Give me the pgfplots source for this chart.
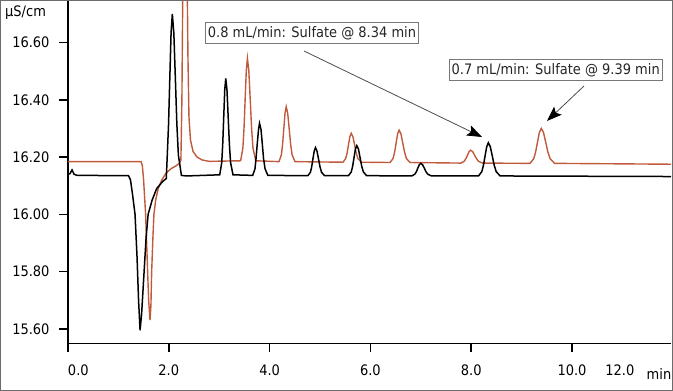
\documentclass[border=0pt]{standalone}
\usepackage{fontspec}
\setmainfont{DejaVu Sans}[FakeStretch=0.9]
\usepackage{pgfplots}
\pgfplotsset{compat=1.18}
\usetikzlibrary{arrows.meta}
\definecolor{rust}{RGB}{192,90,60}
\definecolor{boxgray}{RGB}{120,120,120}
\newcommand{\lbl}{\fontsize{14.5}{17}\selectfont}
\begin{document}
\begin{tikzpicture}
\useasboundingbox (-68bp,-47.5bp) rectangle (605bp,343.5bp);
\begin{axis}[
  at={(0,0)}, anchor=south west,
  scale only axis, width=603bp, height=343.5bp,
  xmin=0, xmax=11.964, ymin=15.5486, ymax=16.7488,
  axis lines=left, axis line style={-, line width=1.6bp},
  tick align=outside, major tick length=9bp,
  tick style={line width=1.6bp, black},
  xtick={0,2,4,6,8,10},
  xticklabels={\makebox[0pt][l]{0.0},2.0,4.0,6.0,8.0,10.0},
  extra x ticks={10.95}, extra x tick labels={12.0},
  extra x tick style={tick style={draw=none}},
  xticklabel style={yshift=-9bp},
  ytick={15.6,15.8,16.0,16.2,16.4,16.6},
  yticklabel style={xshift=-6bp, /pgf/number format/fixed, /pgf/number format/fixed zerofill, /pgf/number format/precision=2, /pgf/number format/assume math mode=true},
  ticklabel style={font=\lbl},
  clip=true,
]
% 0.7 mL/min (orange)
\addplot[rust, line width=1.4bp] coordinates {
(0,16.184)(1.45,16.184)(1.475,16.17)(1.50,16.12)(1.52,16.06)(1.54,16.00)(1.56,15.90)(1.58,15.80)(1.60,15.70)(1.627,15.63)(1.645,15.68)(1.66,15.80)(1.685,15.92)(1.705,16.00)(1.74,16.05)(1.79,16.09)(1.86,16.12)(1.95,16.145)(2.05,16.16)(2.15,16.17)(2.22,16.18)
(2.24,16.19)(2.26,16.40)(2.28,16.85)(2.30,17.2)(2.32,17.3)(2.34,17.2)(2.36,16.90)(2.38,16.55)(2.40,16.34)(2.43,16.26)(2.48,16.22)(2.56,16.20)(2.66,16.19)(2.8,16.185)
(3.425,16.187)(3.47,16.232)(3.4925,16.301)(3.515,16.403)(3.5375,16.502)(3.56,16.545)(3.5875,16.502)(3.615,16.403)(3.6425,16.301)(3.67,16.232)(3.725,16.187)
(4.186,16.184)(4.234,16.208)(4.258,16.245)(4.282,16.300)(4.306,16.353)(4.33,16.376)(4.359,16.353)(4.388,16.300)(4.417,16.245)(4.446,16.208)(4.504,16.184)
(5.455,16.182)(5.51,16.195)(5.5375,16.214)(5.565,16.243)(5.5925,16.271)(5.62,16.283)(5.653,16.271)(5.686,16.243)(5.719,16.214)(5.752,16.195)(5.818,16.182)
(6.39,16.181)(6.45,16.195)(6.48,16.217)(6.51,16.249)(6.54,16.281)(6.57,16.294)(6.606,16.281)(6.642,16.249)(6.678,16.217)(6.714,16.195)(6.786,16.181)
(7.795,16.179)(7.86,16.185)(7.8925,16.194)(7.925,16.206)(7.9575,16.219)(7.99,16.224)(8.029,16.219)(8.068,16.206)(8.107,16.194)(8.146,16.185)(8.224,16.179)
(9.165,16.178)(9.24,16.194)(9.2775,16.217)(9.315,16.252)(9.3525,16.286)(9.39,16.300)(9.434,16.286)(9.478,16.252)(9.522,16.217)(9.566,16.194)(9.654,16.178)
(11.964,16.175)
};
% 0.8 mL/min (black)
\addplot[black, line width=1.5bp] coordinates {
(0,16.14)(0.04,16.142)(0.08,16.155)(0.12,16.14)(0.18,16.136)(1.20,16.135)
(1.24,16.12)(1.28,16.07)(1.33,16.00)(1.37,15.85)(1.40,15.70)(1.43,15.595)(1.46,15.65)(1.51,15.80)(1.55,15.92)(1.59,16.00)(1.67,16.05)(1.76,16.09)(1.88,16.115)(1.95,16.125)
(1.97,16.207)(1.995,16.315)(2.02,16.476)(2.045,16.633)(2.07,16.70)(2.10,16.633)(2.13,16.476)(2.16,16.315)(2.19,16.207)(2.25,16.136)(2.35,16.134)
(3.01,16.138)(3.05,16.180)(3.07,16.245)(3.09,16.341)(3.11,16.435)(3.13,16.475)(3.154,16.435)(3.178,16.341)(3.202,16.245)(3.226,16.180)(3.274,16.138)
(3.665,16.136)(3.71,16.159)(3.73,16.194)(3.755,16.246)(3.78,16.296)(3.80,16.318)(3.83,16.296)(3.855,16.246)(3.88,16.194)(3.91,16.159)(3.965,16.136)
(4.76,16.135)(4.81,16.147)(4.835,16.166)(4.86,16.194)(4.885,16.221)(4.91,16.233)(4.94,16.221)(4.97,16.194)(5.00,16.166)(5.03,16.147)(5.09,16.135)
(5.565,16.135)(5.62,16.148)(5.6475,16.168)(5.675,16.198)(5.7025,16.228)(5.73,16.240)(5.7625,16.228)(5.795,16.198)(5.8275,16.168)(5.86,16.148)(5.925,16.135)
(6.82,16.134)(6.88,16.140)(6.91,16.148)(6.94,16.161)(6.97,16.173)(7.00,16.178)(7.035,16.173)(7.07,16.161)(7.105,16.148)(7.14,16.140)(7.21,16.134)
(8.145,16.134)(8.21,16.149)(8.2425,16.171)(8.275,16.204)(8.3075,16.236)(8.34,16.250)(8.379,16.236)(8.418,16.204)(8.457,16.171)(8.496,16.149)(8.574,16.134)
(11.964,16.132)
};
\end{axis}
\draw[gray!85!black, line width=1.5bp] (-67.25bp,-46.75bp) rectangle (604.25bp,342.75bp);
\node[anchor=west, font=\lbl, inner sep=0pt] at (-63bp,331bp) {µS/cm};
\node[font=\lbl, inner sep=0pt] at (591bp,-30.5bp) {min};
\draw[black!70, line width=0.8bp, -{Stealth[length=15bp,width=11bp,inset=3bp,color=black]}] (236bp,292.5bp) -- (414bp,206.5bp);
\draw[black!70, line width=0.8bp, -{Stealth[length=15bp,width=11bp,inset=3bp,color=black]}] (516bp,257.5bp) -- (479bp,222.5bp);
\node[draw=boxgray, line width=1bp, fill=white, inner sep=2.5bp, minimum height=21bp, text=black!85, font=\lbl] at (244bp,310.2bp) {0.8 mL/min: Sulfate @ 8.34 min};
\node[draw=boxgray, line width=1bp, fill=white, inner sep=2.5bp, minimum height=21bp, text=black!85, font=\lbl] at (487.7bp,273.3bp) {0.7 mL/min: Sulfate @ 9.39 min};
\end{tikzpicture}
\end{document}
